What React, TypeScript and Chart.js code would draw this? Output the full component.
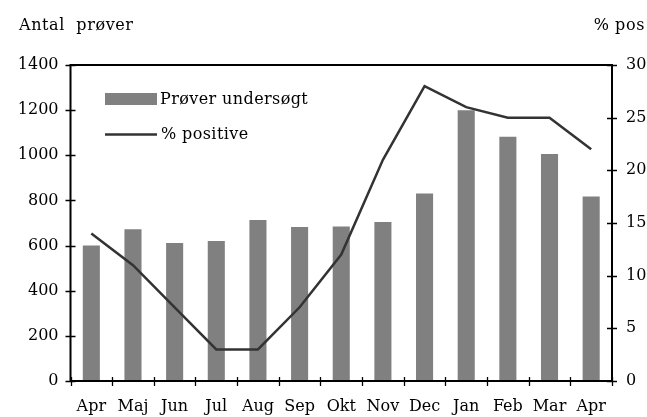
import React, { useEffect, useRef } from "react";
import { Chart, registerables } from "chart.js";

Chart.register(...registerables);

const months = ["Apr", "Maj", "Jun", "Jul", "Aug", "Sep", "Okt", "Nov", "Dec", "Jan", "Feb", "Mar", "Apr"];
const samples = [600, 672, 611, 620, 713, 682, 684, 704, 831, 1200, 1082, 1006, 817];
const positivePct = [14, 11, 7, 3, 3, 7, 12, 21, 28, 26, 25, 25, 22];
const leftTicks = { min: 0, max: 1400, step: 200 };
const rightTicks = { min: 0, max: 30, step: 5 };
const leftTitle = "Antal  prøver";
const rightTitle = "% pos";
const barLabel = "Prøver undersøgt";
const lineLabel = "% positive";

const FONT = "DejaVu Serif";
const BAR_COLOR = "#808080";
const LINE_COLOR = "#333333";

const framePlugin = {
  id: "framePlugin",
  afterDatasetsDraw(chart: any) {
    const { ctx, chartArea } = chart;
    const { left, right, top, bottom } = chartArea;
    ctx.save();
    ctx.strokeStyle = "#000";
    ctx.lineWidth = 2;
    ctx.beginPath();
    ctx.rect(left, top, right - left, bottom - top);
    ctx.stroke();

    ctx.lineWidth = 1.3;
    ctx.beginPath();
    const y = chart.scales.y;
    y.ticks.forEach((t: any) => {
      const py = Math.round(y.getPixelForValue(t.value)) + 0.5;
      ctx.moveTo(left - 5, py);
      ctx.lineTo(left + 5, py);
    });
    const y1 = chart.scales.y1;
    y1.ticks.forEach((t: any) => {
      const py = Math.round(y1.getPixelForValue(t.value)) + 0.5;
      ctx.moveTo(right - 5, py);
      ctx.lineTo(right + 5, py);
    });
    const x = chart.scales.x;
    const n = x.ticks.length;
    const step = (x.getPixelForTick(n - 1) - x.getPixelForTick(0)) / (n - 1);
    for (let i = 0; i <= n; i++) {
      const px = Math.round(x.getPixelForTick(0) + (i - 0.5) * step) + 0.5;
      ctx.moveTo(px, bottom - 4);
      ctx.lineTo(px, bottom + 5);
    }
    ctx.stroke();

    // legend
    ctx.font = `16px "${FONT}"`;
    ctx.textBaseline = "middle";
    ctx.textAlign = "left";
    ctx.fillStyle = BAR_COLOR;
    ctx.fillRect(105, 93, 52, 12);
    ctx.fillStyle = "#000";
    (ctx as any).letterSpacing = "0.4px";
    ctx.fillText(barLabel, 160, 99.5);
    ctx.strokeStyle = LINE_COLOR;
    ctx.lineWidth = 2.5;
    ctx.beginPath();
    ctx.moveTo(105, 134.5);
    ctx.lineTo(157, 134.5);
    ctx.stroke();
    ctx.fillText(lineLabel, 161, 135);

    // titles
    ctx.textBaseline = "alphabetic";
    (ctx as any).letterSpacing = "0.6px";
    ctx.fillText(leftTitle, 19, 30);
    ctx.textAlign = "right";
    ctx.fillText(rightTitle, 645, 30);
    ctx.restore();
  },
};

export default function App() {
  const ref = useRef<HTMLCanvasElement>(null);
  useEffect(() => {
    document.body.style.margin = "0";
    const canvas = ref.current!;
    const tickFont = { family: FONT, size: 16 };
    const plain = (v: any) => String(v);
    const chart = new Chart(canvas, {
      type: "bar",
      data: {
        labels: months,
        datasets: [
          {
            type: "line",
            label: lineLabel,
            data: positivePct,
            yAxisID: "y1",
            borderColor: LINE_COLOR,
            borderWidth: 2.5,
            pointRadius: 0,
            tension: 0,
            order: 0,
          } as any,
          {
            type: "bar",
            label: barLabel,
            data: samples,
            yAxisID: "y",
            backgroundColor: BAR_COLOR,
            barPercentage: 0.41,
            categoryPercentage: 1,
            order: 1,
          },
        ],
      },
      options: {
        responsive: false,
        animation: false,
        layout: { padding: { top: 65, left: 0, right: 0, bottom: 0 } },
        plugins: { legend: { display: false }, tooltip: { enabled: false } },
        scales: {
          x: {
            offset: true,
            grid: { display: false, drawTicks: false },
            border: { display: false },
            ticks: { color: "#000", font: tickFont, padding: 16, maxRotation: 0, autoSkip: false },
            afterFit: (s: any) => { s.height = 36; },
          },
          y: {
            position: "left",
            min: leftTicks.min,
            max: leftTicks.max,
            grid: { display: false, drawTicks: false },
            border: { display: false },
            ticks: { stepSize: leftTicks.step, color: "#000", font: tickFont, padding: 12, callback: plain },
            afterFit: (s: any) => { s.width = 70.5; },
          },
          y1: {
            position: "right",
            min: rightTicks.min,
            max: rightTicks.max,
            grid: { display: false, drawTicks: false },
            border: { display: false },
            ticks: { stepSize: rightTicks.step, color: "#000", font: tickFont, padding: 14, callback: plain },
            afterFit: (s: any) => { s.width = 35; },
          },
        },
      } as any,
      plugins: [framePlugin],
    });
    return () => chart.destroy();
  }, []);
  return (
    <div style={{ width: 647, height: 417 }}>
      <canvas ref={ref} width={647} height={417} />
    </div>
  );
}
